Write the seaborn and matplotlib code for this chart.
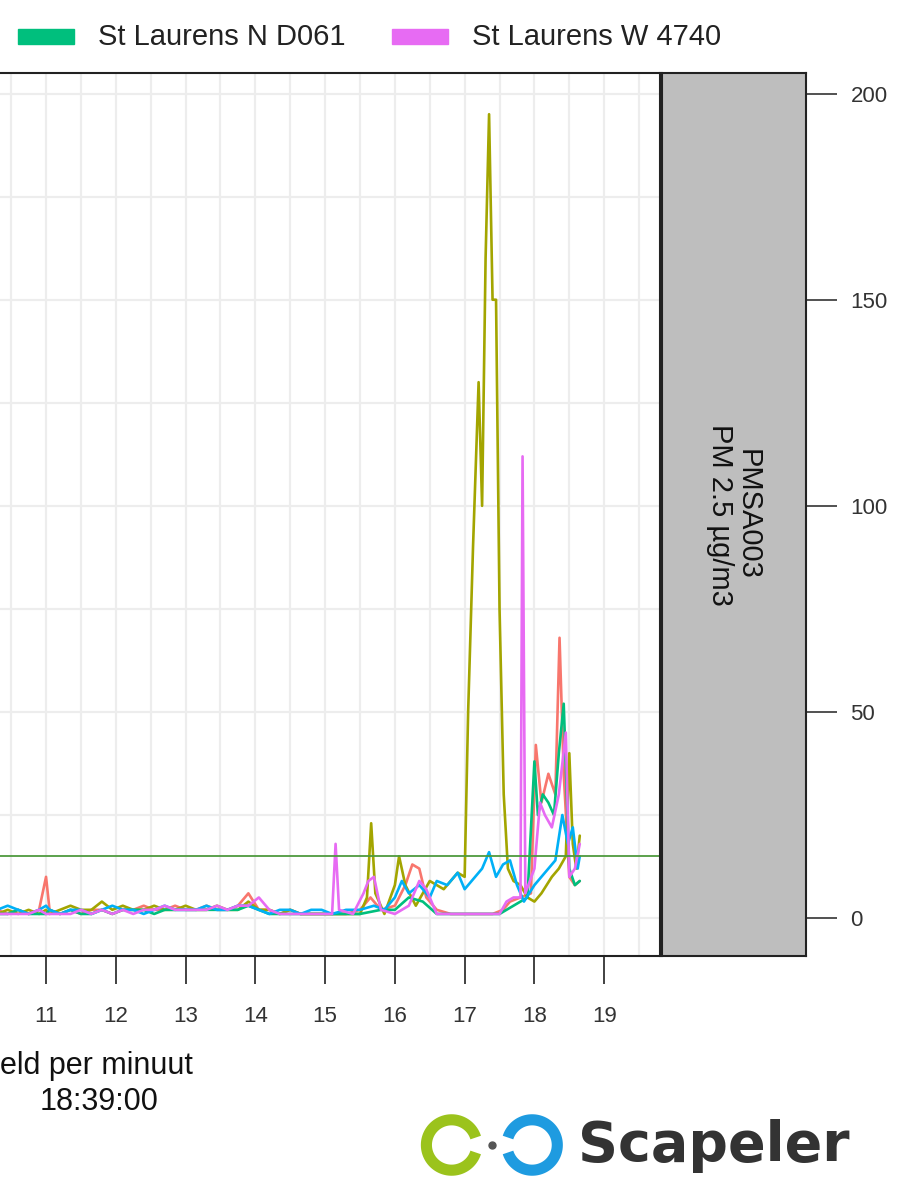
import numpy as np
import pandas as pd
import matplotlib
matplotlib.use("Agg")
from matplotlib import pyplot as plt
import seaborn as sns

# shared baseline hours (10.3 - 15.0)
base_t = [10.30, 10.45, 10.60, 10.75, 10.90, 11.00, 11.05, 11.20, 11.35, 11.50, 11.65, 11.80, 11.95,
          12.10, 12.25, 12.40, 12.55, 12.70, 12.85, 13.00, 13.15, 13.30, 13.45, 13.60, 13.75, 13.90,
          14.05, 14.20, 14.35, 14.50, 14.65, 14.80, 14.95]

red_t = base_t + [15.1, 15.3, 15.5, 15.65, 15.8, 16.0, 16.15, 16.25, 16.35, 16.45, 16.6, 16.8, 17.0, 17.2,
                  17.4, 17.55, 17.65, 17.8, 17.95, 18.02, 18.1, 18.2, 18.3, 18.36, 18.42, 18.5, 18.58, 18.65]
red_v = [2, 1, 2, 1, 2, 10, 2, 1, 2, 1, 2, 2, 1, 2, 2, 3, 2, 2, 3, 2, 2, 3, 2, 2, 3, 6, 2, 2, 1, 2, 1, 1, 1] + \
        [1, 1, 2, 5, 2, 3, 8, 13, 12, 5, 2, 1, 1, 1, 1, 2, 4, 5, 6, 42, 28, 35, 30, 68, 35, 10, 8, 9]

olive_t = base_t + [15.1, 15.3, 15.5, 15.6, 15.66, 15.72, 15.85, 16.0, 16.06, 16.15, 16.3, 16.5, 16.7, 16.9,
                    17.0, 17.05, 17.12, 17.2, 17.25, 17.3, 17.35, 17.4, 17.45, 17.5, 17.56, 17.62, 17.7, 17.8,
                    17.9, 18.0, 18.1, 18.25, 18.35, 18.45, 18.5, 18.55, 18.6, 18.65]
olive_v = [1, 2, 1, 2, 1, 2, 1, 2, 3, 2, 2, 4, 2, 3, 2, 2, 3, 2, 2, 3, 2, 2, 3, 2, 2, 4, 2, 2, 1, 2, 1, 1, 1] + \
          [1, 1, 1, 5, 23, 6, 1, 8, 15, 8, 3, 9, 7, 11, 10, 50, 90, 130, 100, 160, 195, 150, 150, 75, 30, 12,
           9, 8, 5, 4, 6, 10, 12, 15, 40, 18, 12, 20]

green_t = base_t + [15.2, 15.5, 15.8, 16.0, 16.2, 16.4, 16.6, 16.9, 17.2, 17.5, 17.7, 17.9, 18.0, 18.05,
                    18.12, 18.2, 18.28, 18.35, 18.42, 18.5, 18.58, 18.65]
green_v = [1, 1, 2, 1, 1, 1, 2, 1, 2, 1, 1, 2, 1, 2, 2, 2, 1, 2, 2, 2, 2, 2, 2, 2, 2, 3, 2, 1, 1, 1, 1, 1, 1] + \
          [1, 1, 2, 2, 5, 4, 1, 1, 1, 1, 3, 5, 38, 25, 30, 28, 25, 40, 52, 12, 8, 9]

blue_t = base_t + [15.1, 15.3, 15.5, 15.7, 15.85, 16.0, 16.1, 16.2, 16.35, 16.5, 16.6, 16.75, 16.9, 17.0,
                   17.1, 17.25, 17.35, 17.45, 17.55, 17.65, 17.75, 17.85, 18.0, 18.1, 18.2, 18.3, 18.4, 18.48,
                   18.55, 18.62, 18.65]
blue_v = [2, 3, 2, 1, 2, 3, 2, 1, 2, 2, 1, 2, 3, 2, 2, 1, 2, 3, 2, 2, 2, 3, 2, 2, 3, 3, 2, 1, 2, 2, 1, 2, 2] + \
         [1, 2, 2, 3, 2, 5, 9, 6, 8, 5, 9, 8, 11, 7, 9, 12, 16, 10, 13, 14, 8, 4, 8, 10, 12, 14, 25, 18, 22, 12, 15]

mag_t = base_t + [15.1, 15.15, 15.2, 15.4, 15.55, 15.62, 15.7, 15.8, 16.0, 16.2, 16.35, 16.45, 16.6, 16.9,
                  17.2, 17.5, 17.6, 17.7, 17.8, 17.83, 17.87, 18.0, 18.08, 18.15, 18.25, 18.35, 18.45, 18.5,
                  18.58, 18.65]
mag_v = [1, 1, 1, 1, 2, 1, 1, 1, 1, 2, 1, 2, 1, 2, 1, 2, 2, 3, 2, 2, 2, 2, 3, 2, 3, 3, 5, 2, 1, 1, 1, 1, 1] + \
        [1, 18, 2, 1, 6, 9, 10, 2, 1, 3, 9, 7, 1, 1, 1, 1, 4, 5, 5, 112, 6, 12, 28, 25, 22, 30, 45, 10, 12, 18]

series = {
    "St Laurens A": (red_t, red_v),
    "St Laurens B": (olive_t, olive_v),
    "St Laurens N D061": (green_t, green_v),
    "St Laurens C": (blue_t, blue_v),
    "St Laurens W 4740": (mag_t, mag_v),
}
colors = ["#F8766D", "#A3A500", "#00BF7D", "#00B0F6", "#E76BF3"]
threshold = 15
hour_ticks = list(range(11, 20))

df = pd.concat([pd.DataFrame({"uur": t, "waarde": v, "sensor": k}) for k, (t, v) in series.items()])

sns.set_style("white")
plt.rcParams["font.family"] = ["Liberation Sans", "DejaVu Sans"]

W, H = 919, 1200
fig = plt.figure(figsize=(W / 100, H / 100), dpi=100)
ax = fig.add_axes([0, 1 - 956 / H, 660 / W, 883 / H])
ylim = (-9.2, 205)
xlim = (10.34, 19.8)

for x in np.arange(10.5, 20, 0.5):
    ax.axvline(x, color="#EDEDED", lw=1.6, zorder=0)
for y in range(0, 225, 25):
    ax.axhline(y, color="#EDEDED", lw=1.6, zorder=0)

sns.lineplot(data=df, x="uur", y="waarde", hue="sensor", palette=colors, lw=1.9,
             sort=False, legend=False, ax=ax)
ax.axhline(threshold, color="#4E9A3E", lw=1.3)
ax.set_xlim(xlim)
ax.set_ylim(ylim)
ax.set_yticks([])
ax.set_xticks(hour_ticks)
ax.set_xticklabels([str(h) for h in hour_ticks], fontsize=16, color="#333333")
ax.tick_params(axis="x", bottom=True, length=20, width=1.3, pad=16, color="#333333")
ax.set_xlabel("")
ax.set_ylabel("")
for s in ["top", "right", "bottom"]:
    ax.spines[s].set_linewidth(1.5)
    ax.spines[s].set_color("#222222")
ax.spines["left"].set_visible(False)

strip = fig.add_axes([662 / W, 1 - 956 / H, 144 / W, 883 / H])
strip.set_facecolor("#BEBEBE")
strip.set_ylim(ylim)
strip.set_xticks([])
strip.yaxis.tick_right()
strip.set_yticks([0, 50, 100, 150, 200])
strip.tick_params(axis="y", right=True, length=22, width=1.2, pad=10, labelsize=16,
                  color="#333333", labelcolor="#333333")
for s in strip.spines.values():
    s.set_linewidth(1.5)
    s.set_color("#222222")
strip.text(0.5, 0.5, "PMSA003\nPM 2.5 µg/m3", rotation=-90, ha="center", va="center",
           fontsize=21, transform=strip.transAxes, color="#111111", linespacing=1.0)

# legend (cropped)
fig.patches.append(plt.Rectangle((18 / W, 1 - 44 / H), 56 / W, 15 / H, color="#00BF7D", transform=fig.transFigure))
fig.text(98 / W, 1 - 37 / H, "St Laurens N D061", fontsize=21, va="center", color="#222222")
fig.patches.append(plt.Rectangle((392 / W, 1 - 44 / H), 56 / W, 15 / H, color="#E76BF3", transform=fig.transFigure))
fig.text(472 / W, 1 - 37 / H, "St Laurens W 4740", fontsize=21, va="center", color="#222222")

fig.text(0, 1 - 1066 / H, "eld per minuut", fontsize=22, va="center", color="#111111")
fig.text(40 / W, 1 - 1102 / H, "18:39:00", fontsize=22, va="center", color="#111111")

# Scapeler logo
logo = fig.add_axes([420 / W, 1 - 1180 / H, 150 / W, 70 / H])
logo.set_xlim(0, 2.14)
logo.set_ylim(0, 1)
logo.set_aspect("equal")
logo.axis("off")
th = np.linspace(0.3, 2 * np.pi - 0.3, 100)
logo.plot(0.45 + 0.36 * np.cos(th), 0.5 + 0.36 * np.sin(th), color="#9BC31C", lw=8, solid_capstyle="butt")
logo.plot(1.6 + 0.36 * np.cos(th + np.pi), 0.5 + 0.36 * np.sin(th + np.pi), color="#1E9BE0", lw=8,
          solid_capstyle="butt")
logo.plot([1.02], [0.5], "o", color="#555555", ms=5)
fig.text(578 / W, 1 - 1146 / H, "Scapeler", fontsize=40, fontweight="bold", va="center",
         color="#333333", family="DejaVu Sans")

fig.savefig("out.png", dpi=100)
